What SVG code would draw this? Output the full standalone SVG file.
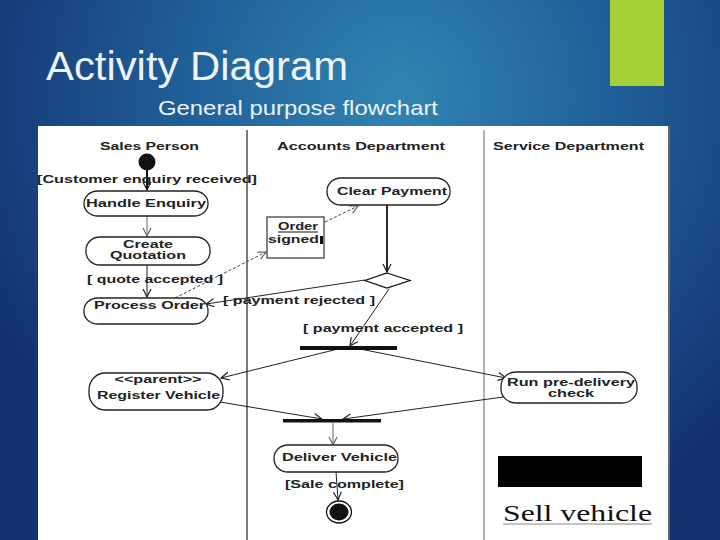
<svg xmlns="http://www.w3.org/2000/svg" width="720" height="540" viewBox="0 0 720 540">
  <defs>
    <radialGradient id="bg" cx="400" cy="95" r="460" gradientUnits="userSpaceOnUse">
      <stop offset="0" stop-color="#3185b2"/>
      <stop offset="0.45" stop-color="#21609a"/>
      <stop offset="1" stop-color="#133270"/>
    </radialGradient>
    <marker id="arr" markerUnits="userSpaceOnUse" markerWidth="12" markerHeight="12" refX="9" refY="5" orient="auto" viewBox="0 0 12 10">
      <path d="M1,1 L9,5 L1,9" fill="none" stroke="#222" stroke-width="1.2"/>
    </marker>
    <marker id="arrg" markerUnits="userSpaceOnUse" markerWidth="12" markerHeight="12" refX="9" refY="5" orient="auto" viewBox="0 0 12 10">
      <path d="M1,1 L9,5 L1,9" fill="none" stroke="#666" stroke-width="1.2"/>
    </marker>
  </defs>
  <style>
    .title { font-family: "Liberation Sans", Arial, sans-serif; fill: #eef3f8; }
    .t { font-family: "Liberation Sans", Arial, sans-serif; font-size: 11px; font-weight: bold; fill: #222; }
    .hdr { font-family: "Liberation Sans", Arial, sans-serif; font-size: 11px; fill: #222; font-weight: bold; }
    .act { fill: #fff; stroke: #222; stroke-width: 1.3; }
    .ln { fill: none; stroke: #222; stroke-width: 1; marker-end: url(#arr); }
    .lng { fill: none; stroke: #666; stroke-width: 1; marker-end: url(#arrg); }
    .dash { fill: none; stroke: #444; stroke-width: 1; stroke-dasharray: 3 2; marker-end: url(#arrg); }
    .bar { fill: #111; }
  </style>

  <rect x="0" y="0" width="720" height="540" fill="url(#bg)"/>
  <rect x="610" y="0" width="54" height="86" fill="#a7cf38"/>
  <text class="title" x="46" y="80" font-size="41" textLength="302" lengthAdjust="spacingAndGlyphs">Activity Diagram</text>
  <text class="title" x="158" y="115" font-size="21" textLength="280" lengthAdjust="spacingAndGlyphs">General purpose flowchart</text>

  <!-- panel -->
  <rect x="38" y="126" width="632" height="414" fill="#fff"/>
  <line x1="669" y1="126" x2="669" y2="540" stroke="#333" stroke-width="1.5"/>
  <line x1="247" y1="130" x2="247" y2="540" stroke="#222" stroke-width="1.2"/>
  <line x1="484" y1="130" x2="484" y2="540" stroke="#999" stroke-width="1.5"/>

  <g id="lanes">
    <text class="hdr" x="100" y="150" textLength="99" lengthAdjust="spacingAndGlyphs">Sales Person</text>
    <text class="hdr" x="277" y="150" textLength="168" lengthAdjust="spacingAndGlyphs">Accounts Department</text>
    <text class="hdr" x="493" y="150" textLength="151" lengthAdjust="spacingAndGlyphs">Service Department</text>
  </g>

  <g id="connectors">
    <line x1="147" y1="168" x2="147" y2="190" stroke="#111" stroke-width="2" marker-end="url(#arr)"/>
    <line class="lng" x1="147" y1="216" x2="147" y2="236"/>
    <line class="ln" x1="147" y1="265" x2="147" y2="297"/>
    <line class="dash" x1="175" y1="298" x2="266" y2="252"/>
    <line class="dash" x1="325" y1="222" x2="358" y2="206"/>
    <line x1="387" y1="205" x2="387" y2="272" stroke="#111" stroke-width="1.8" marker-end="url(#arr)"/>
    <line class="ln" x1="365" y1="280" x2="206" y2="304"/>
    <line class="ln" x1="389" y1="289" x2="350" y2="346"/>
    <line class="ln" x1="338" y1="349" x2="221" y2="378"/>
    <line class="ln" x1="360" y1="349" x2="506" y2="378"/>
    <line class="ln" x1="220" y1="402" x2="322" y2="419"/>
    <line class="ln" x1="503" y1="397" x2="343" y2="419"/>
    <line class="lng" x1="333" y1="423" x2="333" y2="445"/>
    <line class="ln" x1="336" y1="472" x2="338" y2="500"/>
  </g>

  <g id="guards">
    <text class="t" x="37" y="183" font-size="12" textLength="220" lengthAdjust="spacingAndGlyphs">[Customer enquiry received]</text>
    <text class="t" x="87" y="283" textLength="136" lengthAdjust="spacingAndGlyphs">[ quote accepted ]</text>
    <text class="t" x="223" y="304" textLength="152" lengthAdjust="spacingAndGlyphs">[ payment rejected ]</text>
    <text class="t" x="303" y="332" textLength="160" lengthAdjust="spacingAndGlyphs">[ payment accepted ]</text>
    <text class="t" x="285" y="488" textLength="119" lengthAdjust="spacingAndGlyphs">[Sale complete]</text>
  </g>

  <g id="start">
    <circle cx="147" cy="162" r="8.5" fill="#111"/>
  </g>

  <g id="handle-enquiry">
    <rect class="act" x="84" y="191" width="124" height="25" rx="14" ry="12"/>
    <text class="t" x="86" y="207" font-size="12" textLength="120" lengthAdjust="spacingAndGlyphs">Handle Enquiry</text>
  </g>

  <g id="create-quotation">
    <rect class="act" x="86" y="237" width="124" height="28" rx="14" ry="13"/>
    <text class="t" x="148" y="248" text-anchor="middle" textLength="50" lengthAdjust="spacingAndGlyphs">Create</text>
    <text class="t" x="148" y="259" text-anchor="middle" textLength="76" lengthAdjust="spacingAndGlyphs">Quotation</text>
  </g>

  <g id="process-order">
    <rect class="act" x="84" y="298" width="124" height="26" rx="14" ry="12"/>
    <text class="t" x="94" y="309" textLength="111" lengthAdjust="spacingAndGlyphs">Process Order</text>
  </g>

  <g id="order-signed">
    <rect x="267" y="217" width="57" height="41" fill="#fff" stroke="#333" stroke-width="1.2"/>
    <text class="t" x="278" y="230" textLength="40" lengthAdjust="spacingAndGlyphs">Order</text>
    <line x1="278" y1="232" x2="318" y2="232" stroke="#111" stroke-width="1.2"/>
    <text class="t" x="268" y="243" textLength="51" lengthAdjust="spacingAndGlyphs">signed</text>
    <rect x="320" y="236" width="3" height="8" fill="#111"/>
  </g>

  <g id="clear-payment">
    <rect class="act" x="327" y="178" width="123" height="27" rx="14" ry="13"/>
    <text class="t" x="337" y="195" font-size="12" textLength="110" lengthAdjust="spacingAndGlyphs">Clear Payment</text>
  </g>

  <g id="decision">
    <polygon points="387,273 410,280.5 387,288 365,280.5" fill="#fff" stroke="#111" stroke-width="1.3"/>
  </g>

  <g id="fork">
    <rect class="bar" x="300" y="346" width="97" height="4"/>
  </g>

  <g id="register-vehicle">
    <rect class="act" x="89" y="373" width="134" height="37" rx="16" ry="17"/>
    <text class="t" x="158" y="383" text-anchor="middle" font-size="10" font-weight="normal" textLength="87" lengthAdjust="spacingAndGlyphs">&lt;&lt;parent&gt;&gt;</text>
    <text class="t" x="97" y="399" font-size="11.5" textLength="123" lengthAdjust="spacingAndGlyphs">Register Vehicle</text>
  </g>

  <g id="run-pre-delivery-check">
    <rect class="act" x="501" y="372" width="136" height="31" rx="15" ry="14"/>
    <text class="t" x="507" y="386" font-size="11.5" textLength="128" lengthAdjust="spacingAndGlyphs">Run pre-delivery</text>
    <text class="t" x="548" y="397" font-size="11.5" textLength="46" lengthAdjust="spacingAndGlyphs">check</text>
  </g>

  <g id="join">
    <rect class="bar" x="283" y="419" width="98" height="3.5"/>
  </g>

  <g id="deliver-vehicle">
    <rect class="act" x="274" y="445" width="124" height="27" rx="14" ry="13"/>
    <text class="t" x="282" y="461" textLength="115" lengthAdjust="spacingAndGlyphs">Deliver Vehicle</text>
  </g>

  <g id="end">
    <ellipse cx="339" cy="512" rx="12.5" ry="11" fill="#fff" stroke="#111" stroke-width="1.3"/>
    <ellipse cx="339" cy="512" rx="9.5" ry="8.5" fill="#111"/>
  </g>

  <g id="caption">
    <rect x="498" y="456" width="144" height="31" fill="#000"/>
    <text x="503" y="521" font-family="Liberation Serif, 'Times New Roman', serif" font-size="23" fill="#111" textLength="149" lengthAdjust="spacingAndGlyphs">Sell vehicle</text>
    <line x1="503" y1="524" x2="652" y2="524" stroke="#888" stroke-width="1"/>
  </g>
</svg>
